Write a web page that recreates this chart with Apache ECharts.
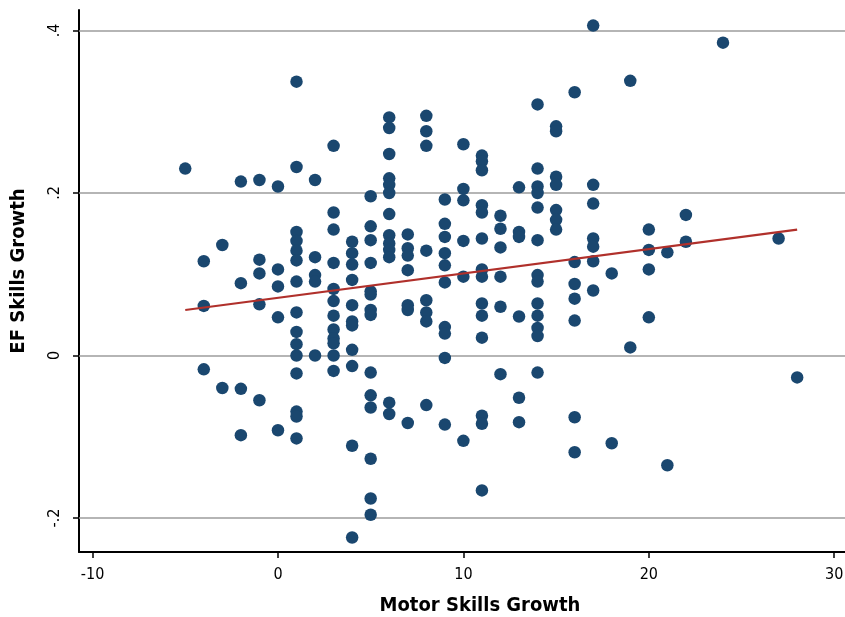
<!DOCTYPE html>
<html>
<head>
<meta charset="utf-8">
<script src="https://cdn.jsdelivr.net/npm/echarts@6/dist/echarts.min.js"></script>
<style>
html,body{margin:0;padding:0;background:#fff;}
#chart{width:845px;height:617px;}
</style>
</head>
<body>
<div id="chart"></div>
<script>
// Motor skills growth values (x) present in the data
const motorValues = [-5, -4, -3, -2, -1, 0, 1, 2, 3, 4, 5, 6, 7, 8, 9, 10, 11, 12, 13, 14, 15, 16, 17, 18, 19, 20, 21, 22, 24, 27, 28];
// EF skills growth values (y) for each motor value above, same order
const efByMotor = [
  [0.230],
  [0.116, 0.061, -0.017],
  [0.136, -0.040],
  [0.214, 0.089, -0.041, -0.098],
  [0.216, 0.118, 0.101, 0.063, -0.055],
  [0.208, 0.106, 0.085, 0.047, -0.092],
  [0.337, 0.232, 0.152, 0.141, 0.129, 0.117, 0.091, 0.053, 0.029, 0.014, 0.000, -0.022, -0.069, -0.075, -0.102],
  [0.216, 0.121, 0.099, 0.091, 0.000],
  [0.258, 0.176, 0.155, 0.114, 0.082, 0.067, 0.049, 0.032, 0.021, 0.015, 0.000, -0.019],
  [0.140, 0.126, 0.112, 0.093, 0.062, 0.042, 0.037, 0.007, -0.013, -0.111, -0.224],
  [0.196, 0.159, 0.142, 0.114, 0.079, 0.075, 0.056, 0.050, -0.021, -0.049, -0.064, -0.127, -0.176, -0.196],
  [0.293, 0.280, 0.248, 0.218, 0.210, 0.200, 0.174, 0.148, 0.138, 0.130, 0.121, -0.058, -0.072],
  [0.149, 0.132, 0.123, 0.105, 0.062, 0.056, -0.083],
  [0.295, 0.276, 0.258, 0.129, 0.068, 0.053, 0.042, -0.061],
  [0.192, 0.162, 0.146, 0.126, 0.111, 0.090, 0.035, 0.027, -0.003, -0.085],
  [0.260, 0.205, 0.191, 0.141, 0.097, -0.105],
  [0.246, 0.239, 0.228, 0.185, 0.176, 0.144, 0.106, 0.097, 0.064, 0.049, 0.022, -0.074, -0.084, -0.166],
  [0.172, 0.156, 0.133, 0.097, 0.060, -0.023],
  [0.207, 0.152, 0.146, 0.048, -0.052, -0.082],
  [0.309, 0.230, 0.208, 0.200, 0.182, 0.142, 0.099, 0.091, 0.064, 0.049, 0.034, 0.024, -0.021],
  [0.282, 0.276, 0.220, 0.210, 0.179, 0.167, 0.155],
  [0.324, 0.115, 0.088, 0.070, 0.043, -0.076, -0.119],
  [0.406, 0.210, 0.187, 0.144, 0.134, 0.116, 0.080],
  [0.101, -0.108],
  [0.338, 0.010],
  [0.155, 0.130, 0.106, 0.047],
  [0.127, -0.135],
  [0.173, 0.140],
  [0.385],
  [0.144],
  [-0.027]
];
// Fitted line end points
const fitX = [-5, 28];
const fitY = [0.056, 0.155];
// Tick values
const xTicks = [-10, 0, 10, 20, 30];
const yTicks = [-0.2, 0, 0.2, 0.4];

const points = [];
motorValues.forEach(function (m, i) {
  efByMotor[i].forEach(function (v) { points.push([m, v]); });
});
const fitLine = fitX.map(function (x, i) { return [x, fitY[i]]; });

const font = "'Liberation Sans Narrow', 'DejaVu Sans Condensed', 'Arial Narrow', sans-serif";
const chart = echarts.init(document.getElementById('chart'), null, {renderer: 'canvas'});
chart.setOption({
  animation: false,
  backgroundColor: '#ffffff',
  grid: {left: 79, right: 0, top: 10, bottom: 65, containLabel: false, outerBoundsMode: 'none'},
  xAxis: {
    type: 'value',
    min: -10.73,
    max: 30.58,
    axisLine: {show: true, onZero: false, lineStyle: {color: '#000', width: 2}},
    axisTick: {show: true, length: 6, customValues: xTicks, lineStyle: {color: '#000', width: 1.5}},
    axisLabel: {customValues: xTicks, margin: 15, fontSize: 16, color: '#000', fontFamily: font},
    splitLine: {show: false},
    name: 'Motor Skills Growth',
    nameLocation: 'middle',
    nameGap: 44,
    nameMoveOverlap: false,
    nameTextStyle: {fontSize: 20, fontWeight: 'bold', color: '#000', fontFamily: font, padding: [0, 0, 0, 36]}
  },
  yAxis: {
    type: 'value',
    min: -0.2418,
    max: 0.4252,
    axisLine: {show: true, onZero: false, lineStyle: {color: '#000', width: 2}},
    axisTick: {show: true, length: 6, customValues: yTicks, lineStyle: {color: '#000', width: 1.5}},
    axisLabel: {
      customValues: yTicks, rotate: 90, margin: 16, fontSize: 16, color: '#000', fontFamily: font,
      formatter: function (v) { return v === 0 ? '0' : String(v).replace('0.', '.'); }
    },
    splitLine: {show: false},
    name: 'EF Skills Growth',
    nameLocation: 'middle',
    nameGap: 50,
    nameMoveOverlap: false,
    nameTextStyle: {fontSize: 20, fontWeight: 'bold', color: '#000', fontFamily: font, padding: [0, 0, 0, 20]}
  },
  series: [
    {
      type: 'scatter',
      data: points,
      symbol: 'circle',
      symbolSize: 12.5,
      z: 2,
      itemStyle: {color: '#1a476f', opacity: 1},
      markLine: {
        silent: true,
        z: 1,
        symbol: ['none', 'none'],
        label: {show: false},
        lineStyle: {color: '#9c9c9c', width: 1.6, type: 'solid'},
        data: yTicks.map(function (t) { return {yAxis: t}; })
      }
    },
    {
      type: 'line',
      data: fitLine,
      showSymbol: false,
      z: 3,
      lineStyle: {color: '#b0302b', width: 2.2},
      itemStyle: {color: '#b0302b'}
    }
  ]
});
</script>
</body>
</html>
